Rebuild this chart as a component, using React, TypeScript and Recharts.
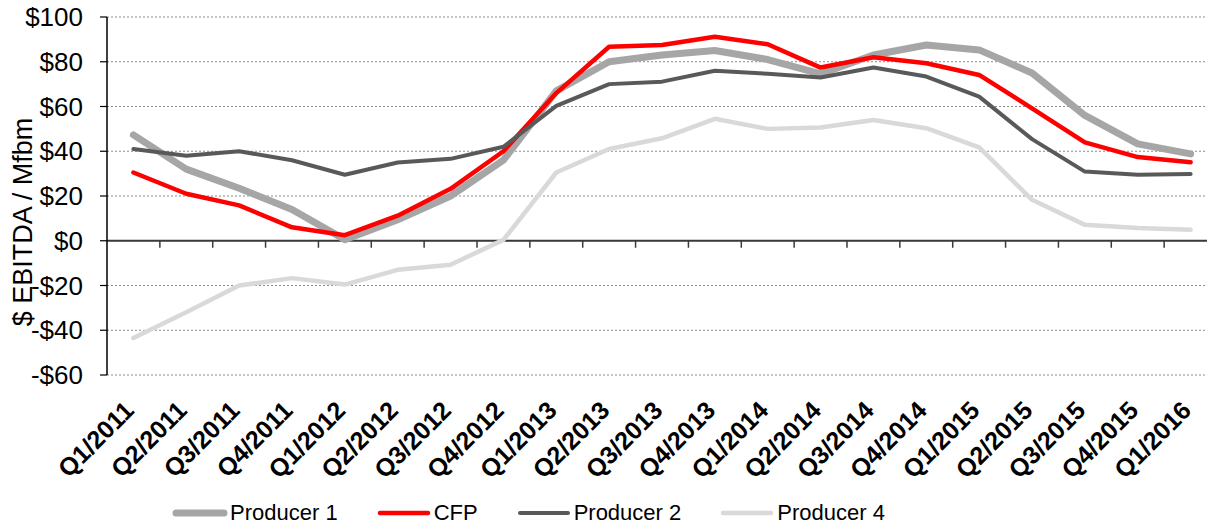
import React from 'react';
import { LineChart, Line, XAxis, YAxis, CartesianGrid, ReferenceLine, Legend } from 'recharts';

const categories = ['Q1/2011','Q2/2011','Q3/2011','Q4/2011','Q1/2012','Q2/2012','Q3/2012','Q4/2012','Q1/2013','Q2/2013','Q3/2013','Q4/2013','Q1/2014','Q2/2014','Q3/2014','Q4/2014','Q1/2015','Q2/2015','Q3/2015','Q4/2015','Q1/2016'];
const producer1 = [47.3, 32, 23.5, 14, 0.5, 9.4, 20, 36, 67, 80, 83, 85, 81, 74.6, 83, 87.5, 85.3, 75, 56, 43.3, 38.8];
const cfp = [30.5, 21, 15.8, 6, 2.5, 11.2, 23.2, 40, 66, 86.7, 87.5, 91.2, 87.8, 77.4, 82, 79.3, 74.1, 59.2, 44, 37.4, 35.1];
const producer2 = [41, 38, 40, 36, 29.5, 35, 36.6, 42, 60.3, 70, 71.1, 76, 74.6, 73, 77.4, 73.4, 64.4, 45.4, 30.9, 29.5, 29.8];
const producer4 = [-43.5, -32, -20, -16.7, -19.6, -13, -10.7, 0.4, 30.5, 41, 45.8, 54.5, 50, 50.6, 54, 50.3, 41.7, 18.3, 7.1, 5.7, 4.9];
const yTicks = [-60, -40, -20, 0, 20, 40, 60, 80, 100];
const seriesNames = ['Producer 1', 'CFP', 'Producer 2', 'Producer 4'];

const data = categories.map((c, i) => ({
  cat: c,
  p1: producer1[i],
  cfp: cfp[i],
  p2: producer2[i],
  p4: producer4[i],
}));

const FONT = '"Liberation Sans", Arial, Helvetica, sans-serif';

const seriesStyle: Record<string, { color: string; width: number }> = {
  'Producer 1': { color: '#a6a6a6', width: 7 },
  'CFP': { color: '#ff0000', width: 4.5 },
  'Producer 2': { color: '#595959', width: 4 },
  'Producer 4': { color: '#d9d9d9', width: 4.5 },
};

const STEP = 52.8;
const PAD = STEP / 2;

const fmt = (v: number) => (v < 0 ? `-$${Math.abs(v)}` : `$${v}`);

const XTick = (props: any) => {
  const { x, y, payload } = props;
  const ex = x + 2;
  const ey = y + 37;
  return (
    <text
      x={ex}
      y={ey}
      transform={`rotate(-45 ${ex} ${ey})`}
      textAnchor="end"
      fontWeight="bold"
      fontSize={25}
      fontFamily={FONT}
      fill="#000"
    >
      {payload.value}
    </text>
  );
};

const ZeroLine = (props: any) => {
  const { x1, x2, y1 } = props;
  const left = Math.min(x1, x2);
  const right = Math.max(x1, x2);
  const n = categories.length;
  const step = (right - left) / n;
  const ticks = [];
  for (let i = 1; i < n; i++) {
    const tx = left + step * i;
    ticks.push(<line key={i} x1={tx} x2={tx} y1={y1} y2={y1 + 7} stroke="#3a3a3a" strokeWidth={1.5} />);
  }
  return (
    <g>
      <line x1={left} x2={right} y1={y1} y2={y1} stroke="#3a3a3a" strokeWidth={2} />
      {ticks}
    </g>
  );
};

const LegendContent = (props: any) => {
  const { payload } = props;
  const items = seriesNames.map((n) => (payload || []).find((p: any) => p.value === n)).filter(Boolean);
  return (
    <div style={{ display: 'flex', alignItems: 'center', paddingLeft: 171, fontFamily: FONT, fontSize: 22, color: '#000' }}>
      {items.map((entry: any) => {
        const st = seriesStyle[entry.value] || { color: entry.color, width: 4 };
        return (
          <div key={entry.value} style={{ display: 'flex', alignItems: 'center', marginRight: 37 }}>
            <svg width={58} height={14} style={{ display: 'block' }}>
              <line x1={5} x2={53} y1={7} y2={7} stroke={st.color} strokeWidth={st.width} strokeLinecap="round" />
            </svg>
            <span style={{ marginLeft: 1, lineHeight: '26px' }}>{entry.value}</span>
          </div>
        );
      })}
    </div>
  );
};

export default function App() {
  return (
    <div style={{ position: 'absolute', left: 0, top: 0, width: 1207, height: 524, overflow: 'hidden', background: '#fff' }}>
      <LineChart width={1217} height={524} data={data} margin={{ top: 17, right: 0, bottom: 0, left: 0 }}>
        <CartesianGrid vertical={false} stroke="#8c8c8c" strokeDasharray="2 2" strokeWidth={1} />
        <XAxis
          dataKey="cat"
          interval={0}
          padding={{ left: PAD, right: PAD }}
          axisLine={false}
          tickLine={false}
          tickSize={0}
          tickMargin={0}
          height={149}
          tick={<XTick />}
        />
        <YAxis
          domain={[-60, 100]}
          ticks={yTicks}
          width={107}
          allowDataOverflow
          tickFormatter={fmt}
          axisLine={{ stroke: '#000', strokeWidth: 1.5 }}
          tickLine={{ stroke: '#000', strokeWidth: 1.2 }}
          tickSize={7}
          tickMargin={17}
          tick={{ fontSize: 26, fontFamily: FONT, fill: '#000' }}
          label={() => (
            <text
              x={32}
              y={222}
              transform="rotate(-90 32 222)"
              textAnchor="middle"
              fontSize={27}
              fontFamily={FONT}
              fill="#000"
            >
              $ EBITDA / Mfbm
            </text>
          )}
        />
        <ReferenceLine y={0} shape={<ZeroLine />} />
        <Legend
          layout="horizontal"
          verticalAlign="middle"
          align="center"
          wrapperStyle={{ top: 500, left: 0, width: 1207 }}
          content={<LegendContent />}
        />
        <Line name="Producer 1" dataKey="p1" stroke="#a6a6a6" strokeWidth={7} dot={false} isAnimationActive={false} strokeLinecap="round" strokeLinejoin="round" />
        <Line name="CFP" dataKey="cfp" stroke="#ff0000" strokeWidth={4.5} dot={false} isAnimationActive={false} strokeLinecap="round" strokeLinejoin="round" />
        <Line name="Producer 2" dataKey="p2" stroke="#595959" strokeWidth={4} dot={false} isAnimationActive={false} strokeLinecap="round" strokeLinejoin="round" />
        <Line name="Producer 4" dataKey="p4" stroke="#d9d9d9" strokeWidth={4.5} dot={false} isAnimationActive={false} strokeLinecap="round" strokeLinejoin="round" />
      </LineChart>
    </div>
  );
}
